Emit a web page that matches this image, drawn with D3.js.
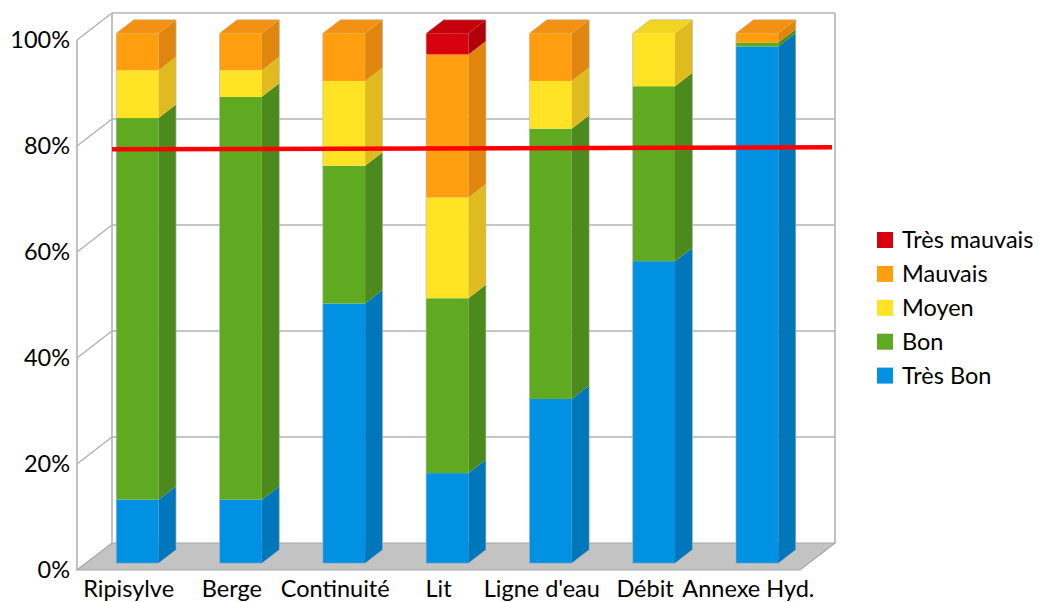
<!DOCTYPE html>
<html>
<head>
<meta charset="utf-8">
<script src="https://cdn.jsdelivr.net/npm/d3@7"></script>
<style>
  html, body { margin: 0; padding: 0; background: #fff; }
  svg { display: block; font-family: Lato, "Open Sans", sans-serif; }
</style>
</head>
<body>
<svg id="chart" width="1039" height="602"></svg>
<script>
// Categories and stacked shares (%) per quality class
const categories = ["Ripisylve", "Berge", "Continuité", "Lit", "Ligne d'eau", "Débit", "Annexe Hyd."];
const tresBon     = [12, 12, 49, 17, 31, 57, 97.5];
const bon         = [72, 76, 26, 33, 51, 33, 0.7];
const moyen       = [9, 5, 16, 19, 9, 10, 0];
const mauvais     = [7, 7, 9, 27, 9, 0, 1.8];
const tresMauvais = [0, 0, 0, 4, 0, 0, 0];
const yTicks = [0, 20, 40, 60, 80, 100];
// reference line (start / end level, %)
const seuil = [78.1, 78.5];

const series = [
  { name: "Très Bon",     values: tresBon,     front: "#0091e3", side: "#0077bb", top: "#0083cf" },
  { name: "Bon",          values: bon,         front: "#60aa22", side: "#4c8a1d", top: "#569c1f" },
  { name: "Moyen",        values: moyen,       front: "#ffe324", side: "#e0bb20", top: "#f2d422" },
  { name: "Mauvais",      values: mauvais,     front: "#ff9f0f", side: "#e0850e", top: "#f39212" },
  { name: "Très mauvais", values: tresMauvais, front: "#d9000d", side: "#b0000a", top: "#c4000c" }
];

const svg = d3.select("#chart");

// Front plane geometry and depth projection
const yF = d3.scaleLinear().domain([0, 100]).range([570, 40]);
const x = d3.scaleBand().domain(categories).range([77, 800]).paddingInner(0.59).paddingOuter(0.295);
const depthX = 35, depthY = -27;
const off = d => [depthX * d, depthY * d];

const grid = "#b3b3b3";
const gWall = svg.append("g");

// floor
const fl = off(1);
gWall.append("polygon")
  .attr("points", [[77, yF(0)], [800, yF(0)], [800 + fl[0], yF(0) + fl[1]], [77 + fl[0], yF(0) + fl[1]]].join(" "))
  .attr("fill", "#c3c3c3").attr("stroke", "#a6a6a6").attr("stroke-width", 1.2);

// back wall grid lines
gWall.selectAll("line.hg").data(yTicks.filter(t => t > 0)).join("line")
  .attr("x1", 77 + fl[0]).attr("x2", 800 + fl[0])
  .attr("y1", d => yF(d) + fl[1]).attr("y2", d => yF(d) + fl[1])
  .attr("stroke", grid).attr("stroke-width", 1.5);
// side wall diagonals
gWall.selectAll("line.dg").data(yTicks.filter(t => t > 0)).join("line")
  .attr("x1", 77).attr("x2", 77 + fl[0])
  .attr("y1", d => yF(d)).attr("y2", d => yF(d) + fl[1])
  .attr("stroke", grid).attr("stroke-width", 1.5);
// wall edges
[[77, yF(0), 77, yF(100)],
 [77 + fl[0], yF(0) + fl[1], 77 + fl[0], yF(100) + fl[1]],
 [800 + fl[0], yF(0) + fl[1], 800 + fl[0], yF(100) + fl[1]]].forEach(l => {
  gWall.append("line").attr("x1", l[0]).attr("y1", l[1]).attr("x2", l[2]).attr("y2", l[3])
    .attr("stroke", grid).attr("stroke-width", 1.6);
});

// Stacked 3D bars
const stack = categories.map((c, i) => {
  let acc = 0;
  return series.map(s => {
    const v = s.values[i];
    const seg = { cat: c, s, y0: acc, y1: acc + v };
    acc += v;
    return seg;
  }).filter(seg => seg.y1 > seg.y0);
});

const bf = off(0.25), bb = off(0.75);
const sdx = bb[0] - bf[0], sdy = bb[1] - bf[1];
const gBars = svg.append("g");
stack.forEach(segs => {
  const g = gBars.append("g");
  const x0 = x(segs[0].cat) + bf[0], x1 = x0 + x.bandwidth();
  segs.forEach((seg, k) => {
    const yt = yF(seg.y1) + bf[1], yb = yF(seg.y0) + bf[1];
    g.append("rect").attr("x", x0).attr("y", yt).attr("width", x1 - x0).attr("height", yb - yt)
      .attr("fill", seg.s.front);
    g.append("polygon")
      .attr("points", [[x1, yt], [x1 + sdx, yt + sdy], [x1 + sdx, yb + sdy], [x1, yb]].join(" "))
      .attr("fill", seg.s.side);
    if (k === segs.length - 1) {
      g.append("polygon")
        .attr("points", [[x0, yt], [x0 + sdx, yt + sdy], [x1 + sdx, yt + sdy], [x1, yt]].join(" "))
        .attr("fill", seg.s.top);
    }
  });
  // light outline of the prism
  const top = yF(segs[segs.length - 1].y1) + bf[1], bot = yF(0) + bf[1];
  g.append("polygon")
    .attr("points", [[x0, bot], [x0, top], [x0 + sdx, top + sdy], [x1 + sdx, top + sdy], [x1 + sdx, bot + sdy], [x1, bot]].join(" "))
    .attr("fill", "none").attr("stroke", "#b8b8b8").attr("stroke-width", 0.8).attr("stroke-opacity", 0.8);
});

// Reference line
svg.append("line")
  .attr("x1", 77 + fl[0]).attr("x2", 797 + fl[0])
  .attr("y1", yF(seuil[0]) + bf[1]).attr("y2", yF(seuil[1]) + bf[1])
  .attr("stroke", "#ff0000").attr("stroke-width", 4.5);

// Y axis labels
svg.append("g").selectAll("text").data(yTicks).join("text")
  .attr("x", 70).attr("y", d => yF(d)).attr("dy", "0.36em")
  .attr("text-anchor", "end").attr("font-size", 23.5).attr("fill", "#000")
  .text(d => d + "%");

// Category labels
svg.append("g").selectAll("text").data(categories).join("text")
  .attr("x", d => x(d) + x.bandwidth() / 2).attr("y", 597)
  .attr("text-anchor", "middle").attr("font-size", 23.5).attr("fill", "#000")
  .text(d => d);

// Legend
const legendItems = series.slice().reverse();
const lg = svg.append("g").attr("transform", "translate(877,240)");
const row = lg.selectAll("g").data(legendItems).join("g")
  .attr("transform", (d, i) => `translate(0,${i * 33.9})`);
row.append("rect").attr("x", 0).attr("y", -8).attr("width", 16).attr("height", 16)
  .attr("fill", d => d.front);
row.append("text").attr("x", 25).attr("y", 0).attr("dy", "0.36em")
  .attr("font-size", 23.5).attr("fill", "#000").text(d => d.name);
</script>
</body>
</html>
